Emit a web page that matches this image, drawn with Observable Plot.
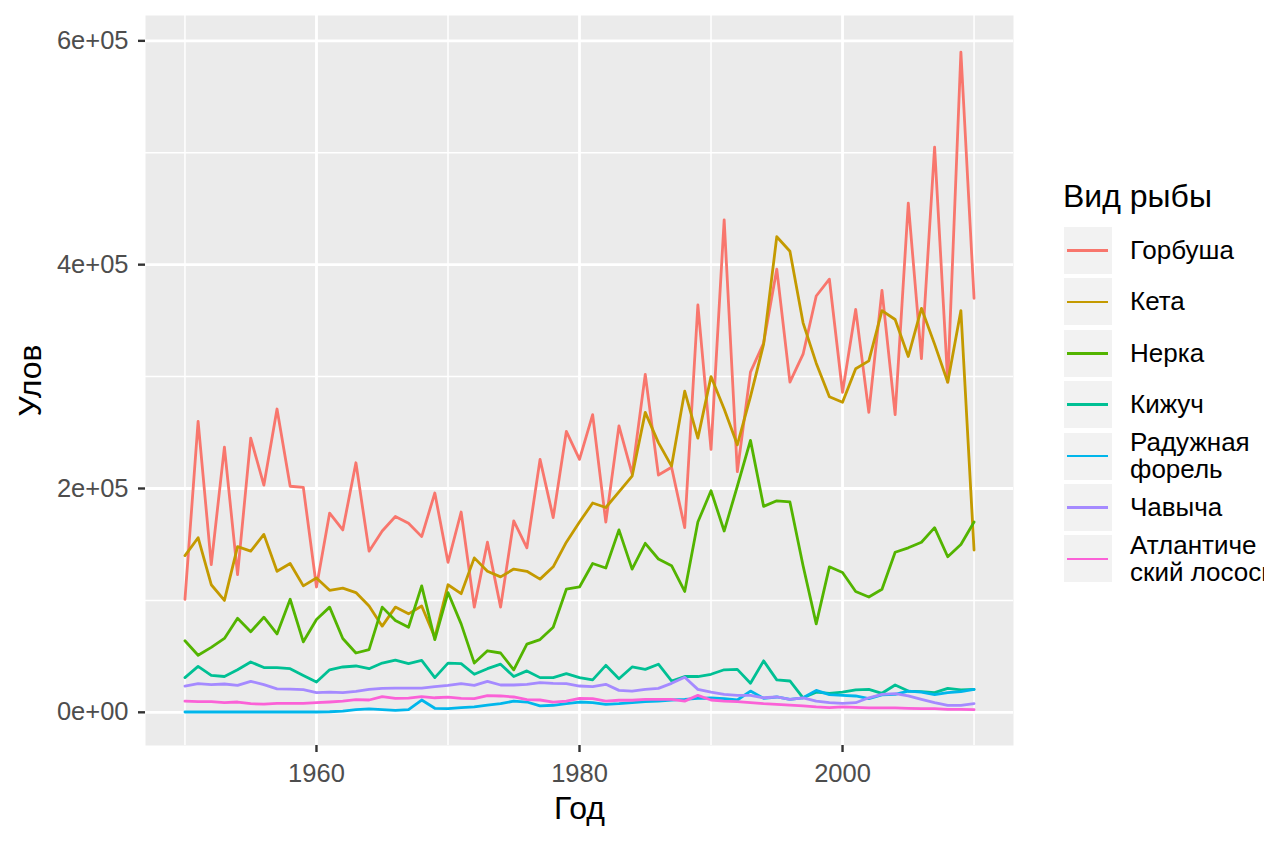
<!DOCTYPE html>
<html>
<head>
<meta charset="utf-8">
<script src="https://cdn.jsdelivr.net/npm/d3@7"></script>
<script src="https://cdn.jsdelivr.net/npm/@observablehq/plot@0.6"></script>
<style>
html, body { margin: 0; padding: 0; background: #fff; overflow: hidden; width: 1264px; height: 843px; }
#wrap { position: relative; width: 1264px; height: 843px; overflow: hidden; font-family: "Liberation Sans", Arial, sans-serif; }
#legend { position: absolute; left: 0; top: 0; }
.lg-title { position: absolute; left: 1063px; top: 179px; font-size: 32px; line-height: 34px; color: #000; white-space: nowrap; }
.lg-key { position: absolute; left: 1064px; width: 48px; height: 47px; background: #F2F2F2; }
.lg-key span { position: absolute; left: 3px; right: 4px; top: 22.3px; height: 2.6px; }
.lg-label { position: absolute; left: 1130px; font-size: 26px; line-height: 27px; color: #000; white-space: nowrap; }
</style>
</head>
<body>
<div id="wrap"><div id="chart"></div><div id="legend"></div></div>
<script>
// ---------- data ----------
const years = d3.range(1950, 2011);

const species = ["Горбуша", "Кета", "Нерка", "Кижуч", "Радужная форель", "Чавыча", "Атлантический лосось"];
const legendLabels = [["Горбуша"], ["Кета"], ["Нерка"], ["Кижуч"], ["Радужная", "форель"], ["Чавыча"], ["Атлантиче", "ский лосось"]];
const colors = ["#F8766D", "#C49A00", "#53B400", "#00C094", "#00B6EB", "#A58AFF", "#FB61D7"];

// values in thousands
const gorbusha = [101, 260, 132, 237, 123, 245, 203, 271, 202, 201,
  112, 178, 163, 223, 144, 162, 175, 169, 157, 196,
  134, 179, 94, 152, 94, 171, 147, 226, 174, 251,
  226, 266, 170, 256, 213, 302, 212, 219, 165, 364,
  235, 440, 215, 304, 330, 396, 295, 320, 372, 387,
  286, 360, 268, 377, 266, 455, 316, 505, 295, 590, 370];
const keta = [140, 156, 114, 100, 148, 144, 159, 126, 133, 113,
  120, 109, 111, 107, 95, 77, 94, 88, 95, 67,
  114, 106, 138, 126, 121, 128, 126, 119, 130, 152,
  170, 187, 183, 197, 211, 268, 241, 220, 287, 245,
  300, 271, 239, 282, 329, 425, 412, 348, 312, 282,
  277, 307, 314, 359, 351, 318, 361, 329, 295, 359, 145];
const nerka = [64, 51, 58, 66, 84, 72, 85, 70, 101, 63,
  83, 94, 66, 53, 56, 94, 82, 76, 113, 65,
  107, 79, 44, 55, 53, 38, 61, 65, 76, 110,
  112, 133, 129, 163, 128, 151, 137, 131, 108, 170,
  198, 162, 202, 243, 184, 189, 188, 131, 79, 130,
  125, 108, 103, 110, 143, 147, 152, 165, 139, 150, 170];
const kizhuch = [31, 41, 33, 32, 38, 45, 40, 40, 39, 33,
  27, 38, 40.5, 41.4, 39, 44, 46.7, 43.5, 46.4, 31,
  44, 43.5, 34, 39, 43, 32, 37, 31, 31, 34.5,
  31, 29, 42, 30, 40.5, 38.4, 43, 28, 32, 32,
  34, 38, 38.4, 26, 46, 29, 28, 13, 18, 17,
  18, 20, 20.5, 17, 24.4, 19, 18.5, 17.6, 21.4, 20, 20.5];
const forel = [0.3, 0.3, 0.3, 0.3, 0.3, 0.3, 0.3, 0.3, 0.3, 0.3,
  0.3, 0.5, 1, 2.4, 3, 2.4, 1.8, 2.4, 11, 3.6,
  3.3, 4.2, 4.8, 6.5, 7.7, 10, 9.2, 5.7, 6.3, 7.7,
  9.2, 8.6, 7.1, 7.7, 8.6, 9.5, 10, 11, 11.6, 12.5,
  12.8, 12.2, 11, 19, 12.5, 13.7, 11.6, 13, 19.6, 15.8,
  15.2, 14.6, 12.2, 15.5, 16, 19, 18, 15.8, 17.6, 18.5, 20.5];
const chavycha = [23.5, 25.6, 24.7, 25.3, 24, 27.7, 24.7, 21, 20.8, 20.2,
  17.6, 18, 17.6, 18.8, 20.5, 21.4, 21.7, 21.7, 21.7, 22.9,
  24, 25.6, 24, 27.7, 24.4, 24.4, 25, 26.5, 25.9, 25.6,
  23.5, 22.9, 25, 19.6, 19, 20.5, 21.4, 25.9, 31.3, 20.5,
  18, 16, 15.2, 15.2, 13, 13.7, 11.6, 13, 10, 8.6,
  8, 8.6, 13, 16, 16.7, 14.6, 11.6, 8.6, 6.2, 6.2, 7.7];
const atlantic = [10, 9.5, 9.5, 8.6, 9.2, 7.7, 7.4, 8, 8, 8,
  8.6, 9.2, 10, 11.3, 11, 14, 12.4, 12.7, 14, 13,
  13.5, 12.5, 12.2, 14.9, 14.6, 13.7, 11.3, 11, 9.2, 10,
  12.5, 12.2, 10, 10.8, 10.8, 11.6, 11.6, 11.6, 10, 15.2,
  11, 10, 9.5, 8.6, 7.7, 7.1, 6.5, 5.7, 4.8, 4.2,
  4.8, 4.5, 3.9, 3.9, 3.9, 3.6, 3.3, 3.3, 2.7, 2.7, 2.4];

const xMajor = [1960, 1980, 2000];
const xMinor = [1950, 1970, 1990, 2010];
const yMajor = [0, 200000, 400000, 600000];
const yMinor = [100000, 300000, 500000];
const yTickLabels = ["0e+00", "2e+05", "4e+05", "6e+05"];

// ---------- build table ----------
const seriesValues = [gorbusha, keta, nerka, kizhuch, forel, chavycha, atlantic];
const table = [];
species.forEach((s, k) => {
  years.forEach((yr, i) => table.push({species: s, year: yr, value: seriesValues[k][i] * 1000}));
});

const font = '"Liberation Sans", Arial, sans-serif';

const chart = Plot.plot({
  width: 1264,
  height: 843,
  marginLeft: 145,
  marginRight: 251,
  marginTop: 15,
  marginBottom: 98,
  style: {fontFamily: font, background: "transparent", overflow: "visible"},
  x: {domain: [1947, 2013]},
  y: {domain: [-29650, 622650]},
  color: {domain: species, range: colors},
  marks: [
    Plot.frame({fill: "#EBEBEB", stroke: "none"}),
    Plot.gridX(xMinor, {stroke: "#fff", strokeOpacity: 1, strokeWidth: 1.5}),
    Plot.gridY(yMinor, {stroke: "#fff", strokeOpacity: 1, strokeWidth: 1.5}),
    Plot.gridX(xMajor, {stroke: "#fff", strokeOpacity: 1, strokeWidth: 2.8}),
    Plot.gridY(yMajor, {stroke: "#fff", strokeOpacity: 1, strokeWidth: 2.8}),
    Plot.line(table, {x: "year", y: "value", z: "species", stroke: "species", strokeWidth: 2.8, strokeLinejoin: "round"}),
    Plot.axisX(xMajor, {tickSize: 7, tickPadding: 11, stroke: "#333333", strokeWidth: 2.4, fill: "#4D4D4D", fontSize: 25.5, label: null, tickFormat: d => String(d)}),
    Plot.axisY(yMajor, {tickSize: 7, tickPadding: 10, stroke: "#333333", strokeWidth: 2.4, fill: "#4D4D4D", fontSize: 25.5, label: null, tickFormat: d => yTickLabels[yMajor.indexOf(d)]}),
    Plot.text(["Год"], {text: d => d, frameAnchor: "bottom", lineAnchor: "middle", textAnchor: "middle", dy: 63, fontSize: 32, fill: "#000"}),
    Plot.text(["Улов"], {text: d => d, frameAnchor: "left", lineAnchor: "middle", textAnchor: "middle", dx: -115, rotate: -90, fontSize: 32, fill: "#000"})
  ]
});
document.getElementById("chart").appendChild(chart);

// ---------- legend ----------
const legend = document.getElementById("legend");
const title = document.createElement("div");
title.className = "lg-title";
title.textContent = "Вид рыбы";
legend.appendChild(title);
const keyTop0 = 227, keyStep = 51.4, keyH = 47;
species.forEach((s, i) => {
  const top = keyTop0 + i * keyStep;
  const key = document.createElement("div");
  key.className = "lg-key";
  key.style.top = top + "px";
  const ln = document.createElement("span");
  ln.style.background = colors[i];
  key.appendChild(ln);
  legend.appendChild(key);
  const lab = document.createElement("div");
  lab.className = "lg-label";
  const lines = legendLabels[i];
  lab.innerHTML = lines.join("<br>");
  const h = lines.length * 27;
  lab.style.top = (top + keyH / 2 - h / 2) + "px";
  legend.appendChild(lab);
});
</script>
</body>
</html>
